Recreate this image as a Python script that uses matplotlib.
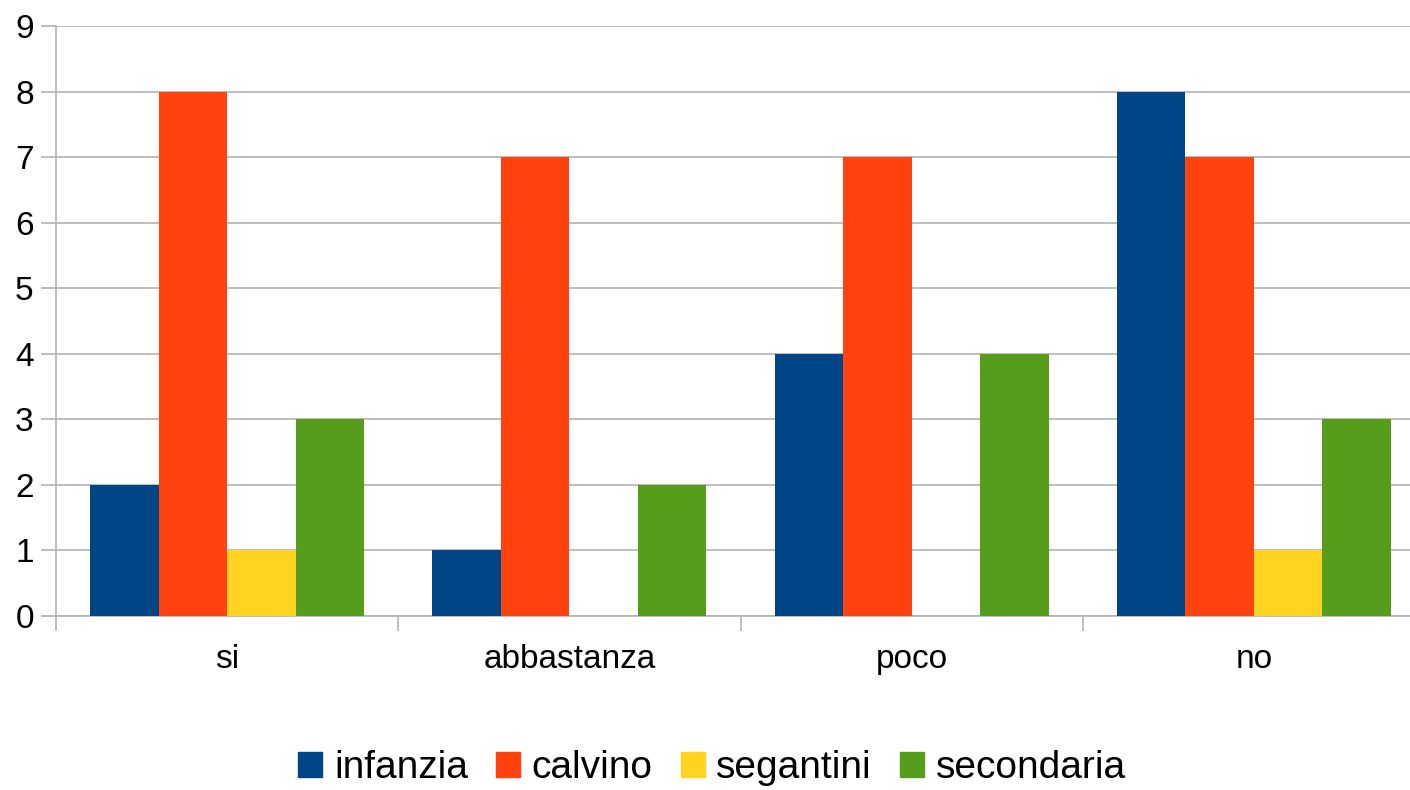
import numpy as np
import matplotlib
matplotlib.use("Agg")
from matplotlib import pyplot as plt
from matplotlib.patches import Patch

plt.rcParams['font.family'] = ['Liberation Sans', 'DejaVu Sans']

# data
categories = ['si', 'abbastanza', 'poco', 'no']
series_names = ['infanzia', 'calvino', 'segantini', 'secondaria']
infanzia = [2, 1, 4, 8]
calvino = [8, 7, 7, 7]
segantini = [1, 0, 0, 1]
secondaria = [3, 2, 4, 3]
colors = ['#004586', '#ff420e', '#ffd320', '#579d1c']

values = [infanzia, calvino, segantini, secondaria]

fig = plt.figure(figsize=(14.1, 7.9), dpi=100)
# plot area runs a little past the right edge, like the original export
ax = fig.add_axes([56/1410, 1 - 616/790, 1369/1410, 590/790])

x = np.arange(len(categories))
w = 0.2
for i, (vals, c) in enumerate(zip(values, colors)):
    ax.bar(x + (i - 1.5) * w, vals, width=w, color=c, zorder=3)

ax.set_xlim(-0.5, len(categories) - 0.5)
ax.set_ylim(0, 9)
ax.set_yticks(range(0, 10))
ax.yaxis.grid(True, color='#b3b3b3', linewidth=1.2, zorder=0)

ax.set_xticks(x)
ax.set_xticklabels(categories)
ax.set_xticks(np.arange(-0.5, len(categories) - 0.4, 1), minor=True)
ax.tick_params(axis='x', which='major', length=0, pad=20, labelsize=24)
ax.tick_params(axis='x', which='minor', length=11, width=1.2, color='#b3b3b3')
ax.tick_params(axis='y', length=11, width=1.2, color='#b3b3b3', labelsize=24, pad=5)

for s in ['top', 'right']:
    ax.spines[s].set_visible(False)
for s in ['left', 'bottom']:
    ax.spines[s].set_color('#b3b3b3')
    ax.spines[s].set_linewidth(1.2)

handles = [Patch(color=c, label=n) for n, c in zip(series_names, colors)]
fig.legend(handles=handles, loc='center', bbox_to_anchor=(0.505, 0.028), ncol=4,
           frameon=False, fontsize=28, handlelength=0.62, handleheight=0.62,
           handletextpad=0.3, columnspacing=0.72, borderaxespad=0)

fig.savefig('out.png', dpi=100)
